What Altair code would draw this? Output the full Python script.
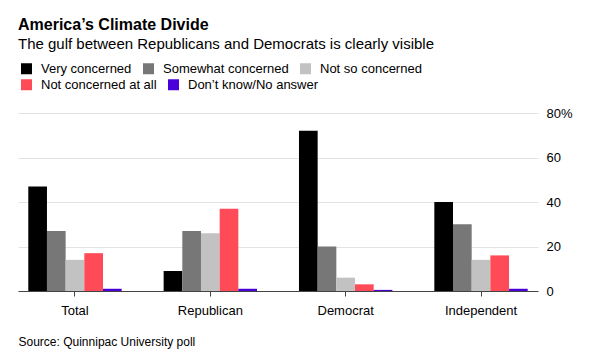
import altair as alt
import pandas as pd

categories = ["Total", "Republican", "Democrat", "Independent"]
responses = ["Very concerned", "Somewhat concerned", "Not so concerned",
             "Not concerned at all", "Don\u2019t know/No answer"]
colors = ["#000000", "#777777", "#c2c2c2", "#ff4b58", "#4a00d9"]

very = [47, 9, 72, 40]
somewhat = [27, 27, 20, 30]
not_so = [14, 26, 6, 14]
not_at_all = [17, 37, 3, 16]
dont_know = [1, 1, 0.5, 1]

y_ticks = [0, 20, 40, 60, 80]

series = [very, somewhat, not_so, not_at_all, dont_know]
rows = []
for resp, vals in zip(responses, series):
    for cat, v in zip(categories, vals):
        rows.append({"group": cat, "response": resp, "value": v})
df = pd.DataFrame(rows)

FONT = "Liberation Sans"

x_enc = alt.X("group:N", sort=categories,
              scale=alt.Scale(paddingInner=0.31, paddingOuter=0.076),
              axis=alt.Axis(orient="bottom", labelAngle=0, labelFontSize=13,
                            labelColor="#000000", labelPadding=8,
                            domainColor="#444444", tickColor="#444444", tickSize=5,
                            title="Source: Quinnipac University poll",
                            titleAnchor="start", titleAlign="left", titleX=0, titleY=54,
                            titleBaseline="alphabetic", titleFontSize=12,
                            titleFontWeight="normal", titleColor="#000000"))
xoff_enc = alt.XOffset("response:N", sort=responses,
                       scale=alt.Scale(domain=responses, paddingInner=0, paddingOuter=0))
y_enc = alt.Y("value:Q", scale=alt.Scale(domain=[0, 80]),
              axis=alt.Axis(orient="right", values=y_ticks, grid=True,
                            gridColor="#e3e3e3", domain=False, ticks=False,
                            labelPadding=8, labelFontSize=13, labelColor="#000000",
                            labelExpr="datum.value == 80 ? '80%' : datum.label",
                            title=None))


def legend(y):
    return alt.Legend(orient="none", legendX=2, legendY=y,
                      direction="horizontal", columns=3,
                      symbolType="square", symbolSize=121, symbolStrokeWidth=0,
                      labelFontSize=13, labelOffset=8,
                      columnPadding=10, rowPadding=3,
                      labelColor="#000000", title=None)


base = alt.Chart(df)

row1 = responses[:3]
row2 = responses[3:]

layer1 = base.mark_bar().encode(
    x=x_enc, xOffset=xoff_enc, y=y_enc,
    color=alt.Color("response:N", sort=row1,
                    scale=alt.Scale(domain=row1, range=colors[:3]),
                    legend=legend(-51)),
).transform_filter(alt.FieldOneOfPredicate(field="response", oneOf=row1))

layer2 = base.mark_bar().encode(
    x=x_enc, xOffset=xoff_enc, y=y_enc,
    color=alt.Color("response:N", sort=row2,
                    scale=alt.Scale(domain=row2, range=colors[3:]),
                    legend=legend(-35)),
).transform_filter(alt.FieldOneOfPredicate(field="response", oneOf=row2))

chart = alt.layer(layer1, layer2).resolve_scale(
    color="independent"
).resolve_legend(
    color="independent"
).properties(
    width=520,
    height=178,
    padding={"left": 10, "top": 105, "right": 40, "bottom": 65},
    autosize=alt.AutoSizeParams(type="none"),
    title=alt.TitleParams("America\u2019s Climate Divide",
                          subtitle="The gulf between Republicans and Democrats is clearly visible",
                          anchor="start", frame="group", fontSize=16,
                          fontWeight="bold", color="#000000",
                          subtitleFontSize=15, subtitleColor="#000000",
                          subtitlePadding=4, offset=10),
).configure(font=FONT).configure_view(stroke=None)

chart.save("out.html", embed_options={"renderer": "svg", "actions": False})
